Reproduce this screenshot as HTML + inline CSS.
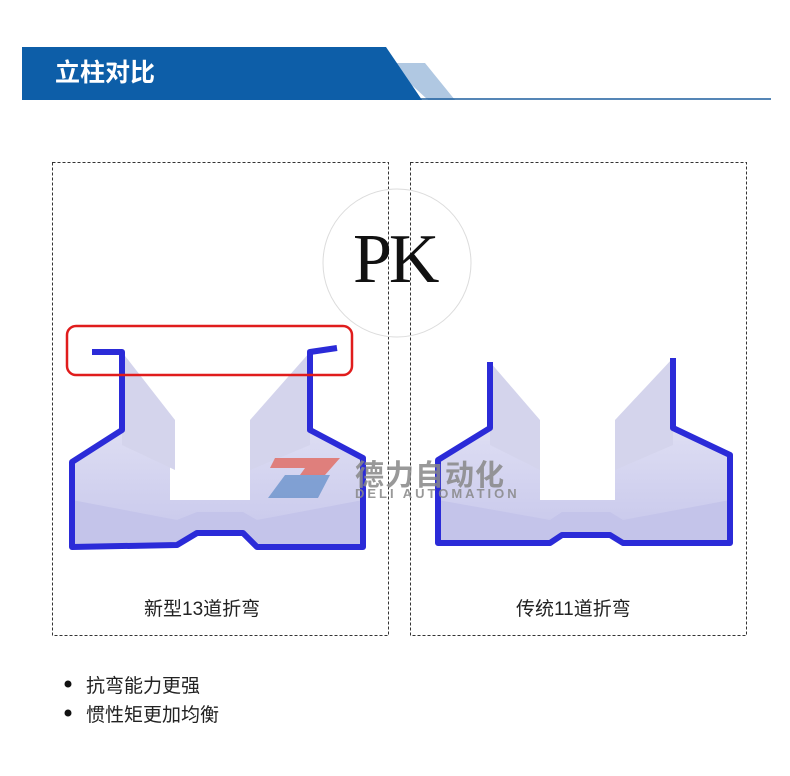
<!DOCTYPE html>
<html><head><meta charset="utf-8">
<style>
body{margin:0;background:#fff;}
.wrap{position:relative;width:790px;height:776px;overflow:hidden;font-family:"Liberation Sans","Noto Sans CJK SC",sans-serif;}
.t{position:absolute;white-space:nowrap;}
</style></head><body><div class="wrap">
<svg width="790" height="776" style="position:absolute;left:0;top:0">
<defs>
<linearGradient id="g" x1="0" y1="0" x2="0" y2="1">
<stop offset="0" stop-color="#e8e8f6"/><stop offset="1" stop-color="#b8b8e6"/>
</linearGradient>
</defs>
<polygon points="388,63 425,63 455,100 428,100" fill="#b0c8e2"/>
<polygon points="22,47 386,47 422,100 22,100" fill="#0d5ea8"/>
<line x1="420" y1="99" x2="771" y2="99" stroke="#1d5f9e" stroke-width="1.5"/>
<rect x="52.5" y="162.5" width="336" height="473" fill="none" stroke="#333" stroke-dasharray="3,2"/>
<rect x="410.5" y="162.5" width="336" height="473" fill="none" stroke="#333" stroke-dasharray="3,2"/>
<circle cx="397" cy="263" r="74" fill="none" stroke="#dcdcdc"/>
<g>
<polygon points="122,352 122,430 72,462 72,547 177,545 197,533 243,533 257,547 363,547 363,458 310,430 310,352 250,440 250,500 170,500 170,440" fill="url(#g)" opacity="0.8"/>
<polygon points="122,352 175,420 175,470 122,445" fill="#d4d4ec"/>
<polygon points="310,352 250,420 250,470 310,445" fill="#d4d4ec"/>
<polygon points="72,500 177,520 197,512 243,512 257,520 363,500 363,547 257,547 243,533 197,533 177,545 72,547" fill="#c4c4ea"/>
<polyline points="92,352 122,352 122,430 72,462 72,547 177,545 197,533 243,533 257,547 363,547 363,458 310,430 310,352 337,348" fill="none" stroke="#2b2bd8" stroke-width="6" stroke-linejoin="round"/>
</g>
<g>
<polygon points="490,362 490,428 438,460 438,543 550,543 562,535 610,535 623,543 730,543 730,455 673,428 673,358 615,440 615,500 540,500 540,440" fill="url(#g)" opacity="0.8"/>
<polygon points="490,362 540,420 540,470 490,445" fill="#d4d4ec"/>
<polygon points="673,358 615,420 615,470 673,445" fill="#d4d4ec"/>
<polygon points="438,500 550,520 562,512 610,512 623,520 730,500 730,543 623,543 610,535 562,535 550,543 438,543" fill="#c4c4ea"/>
<polyline points="490,362 490,428 438,460 438,543 550,543 562,535 610,535 623,543 730,543 730,455 673,428 673,358" fill="none" stroke="#2b2bd8" stroke-width="6" stroke-linejoin="round"/>
</g>
<rect x="67" y="326" width="285" height="49" rx="9" fill="none" stroke="#e01c1c" stroke-width="2.5"/>
<polygon points="275,458 340,458 325,475 300,475 305,468 270,468" fill="#e25a4a" opacity="0.7"/>
<polygon points="285,475 330,475 318,498 268,498" fill="#4a7fc0" opacity="0.6"/>
<circle cx="68" cy="684" r="3.5" fill="#111"/>
<circle cx="68" cy="713" r="3.5" fill="#111"/>
</svg>
<div class="t" style="left:55px;top:53px;font-size:25px;color:#fff;font-weight:bold;">立柱对比</div>
<div class="t" style="left:353px;top:220px;font-size:70px;line-height:80px;color:#111;font-family:'Liberation Serif',serif;letter-spacing:-3px;">PK</div>
<div class="t" style="left:355px;top:452px;font-size:29px;color:#888;opacity:0.85;font-weight:bold;letter-spacing:1px;">德力自动化</div>
<div class="t" style="left:355px;top:486px;font-size:13px;color:#888;opacity:0.85;font-weight:bold;letter-spacing:3px;">DELI AUTOMATION</div>
<div class="t" style="left:144px;top:594px;font-size:19px;color:#222;">新型13道折弯</div>
<div class="t" style="left:516px;top:594px;font-size:19px;color:#222;">传统11道折弯</div>
<div class="t" style="left:86px;top:671px;font-size:19px;color:#222;">抗弯能力更强</div>
<div class="t" style="left:86px;top:700px;font-size:19px;color:#222;">惯性矩更加均衡</div>
</div></body></html>
